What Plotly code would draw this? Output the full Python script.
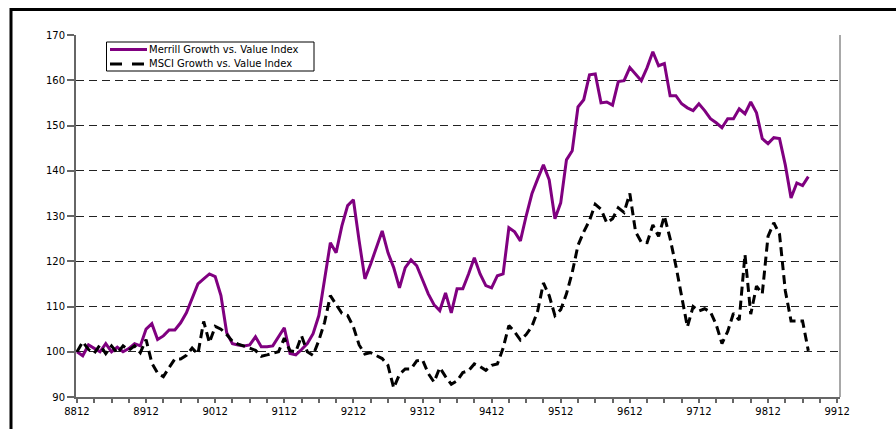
import plotly.graph_objects as go

# Monthly index levels, Dec 1988 onward (one value per month)
merrill = [
    100, 99.1, 101.5, 100.7, 100, 101.8, 100, 101, 100, 100.7, 101.8, 101.3,
    105, 106.2, 102.7, 103.5, 104.8, 104.8, 106.4, 108.6, 111.9, 115, 116.1, 117.2,
    116.6, 112.4, 104.2, 101.8, 101.5, 101.3, 101.5, 103.3, 101.1, 101.1, 101.3, 103.3,
    105.3, 99.6, 99.3, 100.5, 101.8, 104, 108, 116, 124.1, 121.9, 127.8, 132.3,
    133.6, 124.5, 116.1, 119.4, 123, 126.7, 121.9, 118.6, 114.1, 118.6, 120.3, 119,
    115.9, 112.8, 110.4, 109.1, 113, 108.6, 113.9, 113.9, 117.2, 120.8, 117.2, 114.6,
    114.1, 116.8, 117.2, 127.4, 126.5, 124.5, 130, 134.9, 138.2, 141.3, 138, 129.4,
    132.9, 142.4, 144.4, 154.1, 155.7, 161.2, 161.4, 155, 155.2, 154.5, 159.7, 159.9,
    162.8, 161.4, 159.9, 162.8, 166.3, 163.2, 163.7, 156.6, 156.6, 154.8, 153.9, 153.3,
    154.8, 153.3, 151.5, 150.6, 149.5, 151.5, 151.5, 153.7, 152.6, 155.2, 152.8, 147.1,
    146, 147.3, 147.1, 141.3, 134, 137.3, 136.7, 138.7,
]

msci = [
    100, 102.2, 100.5, 99.7, 101.5, 99.6, 101.3, 99.7, 101.3, 100.3, 101.3, 99.8,
    102.7, 97.5, 95.3, 94.5, 96.5, 98.4, 98.4, 99.2, 100.8, 99.5, 106.7, 102,
    105.6, 105, 103.8, 102.3, 101.7, 101.3, 100.8, 100.3, 99, 99.3, 99.6, 100,
    103, 100.2, 100, 103.5, 100, 99.2, 102.5, 106.5, 112.4, 110.5, 108.5, 108,
    105.5, 101.5, 99.5, 99.8, 99.2, 98.5, 97, 92, 95, 96.2, 96.2, 98,
    98.2, 95.2, 93.3, 96.5, 94.5, 92.8, 93.6, 95.4, 95.8, 97.3, 96.7, 95.9,
    97, 97.3, 100.8, 105.8, 104.4, 102.6, 103.8, 105.6, 109, 115.2, 112.4, 108,
    109.3, 112.8, 117.5, 123.5, 126.5, 129, 132.6, 131.5, 128.5, 129.4, 131.8, 130.8,
    135, 126.5, 124.2, 124.1, 128, 125.5, 130, 125, 119, 112, 105.5, 110,
    109, 109.5, 108.8, 106, 101.8, 104.5, 108.5, 107, 121.5, 108.3, 114.5, 112.8,
    125.5, 128.5, 126, 113.5, 106.8, 106.8, 106.8, 100.2,
]

series_names = ["Merrill Growth vs. Value Index", "MSCI Growth vs. Value Index"]
year_labels = ["8812", "8912", "9012", "9112", "9212", "9312",
               "9412", "9512", "9612", "9712", "9812", "9912"]
y_ticks = [90, 100, 110, 120, 130, 140, 150, 160, 170]

PURPLE = "#800080"
FONT = "DejaVu Sans"

months = list(range(len(merrill)))
label_pos = [12 * i for i in range(len(year_labels))]

fig = go.Figure()
fig.add_trace(go.Scatter(x=months, y=merrill, mode="lines", name=series_names[0],
                         line=dict(color=PURPLE, width=3)))
fig.add_trace(go.Scatter(x=list(range(len(msci))), y=msci, mode="lines", name=series_names[1],
                         line=dict(color="black", width=3, dash="9px,5px")))

# plot area in pixels: left 76, right 840, top 35, bottom 397
L, R, T, B = 76, 840, 35, 397
W, H = 896, 429


def px(x):
    return (x - L) / (R - L)


def py(y):
    return (B - y) / (B - T)


shapes = [
    # outer frame
    dict(type="rect", xref="paper", yref="paper", x0=px(11), x1=px(910), y0=py(9.5), y1=py(445),
         line=dict(color="black", width=3), fillcolor="rgba(0,0,0,0)", layer="above"),
    # right edge of plot area
    dict(type="line", xref="paper", yref="paper", x0=1, x1=1, y0=0, y1=1,
         line=dict(color="#a8a8a8", width=2)),
    # legend box
    dict(type="rect", xref="paper", yref="paper", x0=px(106.5), x1=px(314), y0=py(71), y1=py(42),
         line=dict(color="black", width=1), fillcolor="white", layer="above"),
    dict(type="line", xref="paper", yref="paper", x0=px(110), x1=px(147), y0=py(49.5), y1=py(49.5),
         line=dict(color=PURPLE, width=3), layer="above"),
    dict(type="line", xref="paper", yref="paper", x0=px(110), x1=px(147), y0=py(64), y1=py(64),
         line=dict(color="black", width=3, dash="12px,10px"), layer="above"),
]

annotations = [
    dict(xref="paper", yref="paper", x=px(147), y=py(49.5), text=series_names[0],
         showarrow=False, xanchor="left", yanchor="middle",
         font=dict(family=FONT, size=10, color="black")),
    dict(xref="paper", yref="paper", x=px(147), y=py(64), text=series_names[1],
         showarrow=False, xanchor="left", yanchor="middle",
         font=dict(family=FONT, size=10, color="black")),
]

fig.update_layout(
    width=W, height=H,
    margin=dict(l=L, r=W - R, t=T, b=H - B, pad=0),
    paper_bgcolor="white", plot_bgcolor="white",
    showlegend=False,
    font=dict(family=FONT, size=10, color="black"),
    shapes=shapes, annotations=annotations,
    xaxis=dict(
        range=[-0.17, 132.5], tickmode="array", tickvals=label_pos, ticktext=year_labels,
        showgrid=False, zeroline=False,
        showline=True, linecolor="#666666", linewidth=1.5,
        ticks="outside", ticklen=4, tickcolor="#666666", tickwidth=1.5,
        minor=dict(dtick=3, tick0=0, ticks="outside", ticklen=4, tickcolor="#666666",
                   tickwidth=1.5, showgrid=False),
        tickfont=dict(family=FONT, size=10, color="black"),
        fixedrange=True,
    ),
    yaxis=dict(
        range=[90, 170], tickmode="array", tickvals=y_ticks,
        showgrid=True, gridcolor="#222222", gridwidth=1, griddash="8px,5px",
        zeroline=False,
        showline=True, linecolor="#666666", linewidth=2,
        ticks="outside", ticklen=7, tickcolor="#666666", tickwidth=1.5,
        tickfont=dict(family=FONT, size=10, color="black"),
        fixedrange=True,
    ),
)

fig.write_html("out.html")
